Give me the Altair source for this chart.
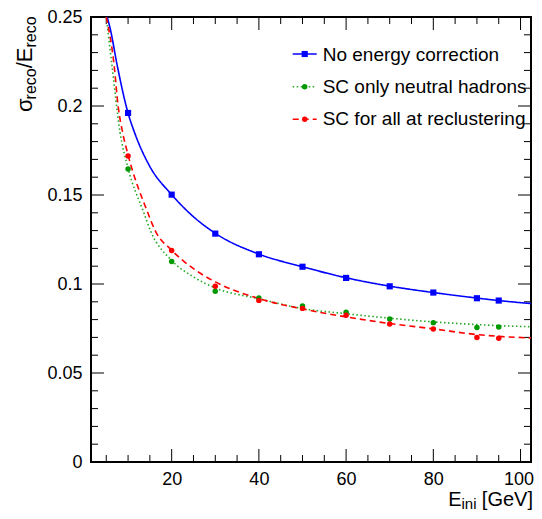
import altair as alt
import pandas as pd

# ---------------- data ----------------
E_points = [10, 20, 30, 40, 50, 60, 70, 80, 90, 95]
no_corr = [0.1961, 0.1502, 0.1283, 0.1167, 0.1097, 0.1034, 0.0987, 0.0952, 0.0920, 0.0907]
sc_neutral = [0.1646, 0.1126, 0.0959, 0.0921, 0.0876, 0.0841, 0.0803, 0.0783, 0.0755, 0.0758]
sc_all = [0.1719, 0.1188, 0.0987, 0.0908, 0.0863, 0.0824, 0.0775, 0.0747, 0.0700, 0.0695]

# fitted curves
curve_E_blue = [5.2, 5.9, 7.5, 10, 11.5, 15, 20, 24, 30, 40, 50, 60, 70, 80, 90, 95, 102.4]
curve_blue = [0.250, 0.2435, 0.2229, 0.1960, 0.1850, 0.1660, 0.1502, 0.1400, 0.1285, 0.1168,
              0.1097, 0.1035, 0.0988, 0.0952, 0.0921, 0.0907, 0.0890]
curve_E_green = [5.0, 6.3, 8.15, 10, 13.5, 15.2, 20, 25, 30, 40, 50, 60, 70, 80, 90, 95, 102.4]
curve_green = [0.250, 0.2229, 0.1854, 0.1650, 0.1408, 0.1296, 0.1132, 0.1040, 0.0978, 0.0917,
               0.0862, 0.0833, 0.0808, 0.0787, 0.0772, 0.0766, 0.0760]
curve_E_red = [5.0, 6.8, 7.7, 8.86, 10, 14.4, 16.3, 20, 25, 30, 40, 50, 60, 70, 80, 90, 95, 102.4]
curve_red = [0.250, 0.2229, 0.2004, 0.1839, 0.1725, 0.1408, 0.1296, 0.1190, 0.1086, 0.1012,
             0.0918, 0.0860, 0.0815, 0.0778, 0.0748, 0.0716, 0.0706, 0.0697]

series_names = ["No energy correction", "SC only neutral hadrons", "SC for all at reclustering"]

x_major = [20, 40, 60, 80, 100]
x_minor = [5, 10, 15, 25, 30, 35, 45, 50, 55, 65, 70, 75, 85, 90, 95]
y_major = [0, 0.05, 0.1, 0.15, 0.2, 0.25]
y_minor = [round(i * 0.01, 2) for i in range(1, 25) if i % 5 != 0]

# ---------------- styling ----------------
W, H = 440, 445
FONT = "Liberation Sans"
line_colors = ["#0000ff", "#22a822", "#ff0000"]
marker_colors = ["#0000ff", "#009900", "#ff0000"]
dashes = [[1, 0], [1.5, 2.5], [6, 4]]
shapes = ["square", "circle", "circle"]
sizes = [38, 30, 30]

xscale = alt.Scale(domain=[1.5, 102.4], nice=False, zero=False)
yscale = alt.Scale(domain=[0, 0.25], nice=False, zero=False)
xaxis = alt.Axis(values=x_major, ticks=False, domain=False, grid=False, title=None,
                 labelFontSize=18, labelFont=FONT, labelColor="black", labelPadding=8,
                 labelFlush=False, labelOverlap=False,
                 labelOffset=alt.condition("datum.value == 100", alt.value(-2), alt.value(0)))
yaxis = alt.Axis(values=y_major, format=".2~f", ticks=False, domain=False, grid=False, title=None,
                 labelFontSize=18, labelFont=FONT, labelColor="black", labelPadding=9,
                 labelFlush=False, labelOverlap=False)

def X(field):
    return alt.X(field, type="quantitative", scale=xscale, axis=xaxis)

def Y(field):
    return alt.Y(field, type="quantitative", scale=yscale, axis=yaxis)

layers = []

# tick marks (inside, on all four sides)
for vals, L in ((x_major, 13), (x_minor, 7)):
    d = pd.DataFrame({"v": vals})
    layers.append(alt.Chart(d).mark_rule(color="black", strokeWidth=1).encode(
        x=X("v"), y=alt.value(H), y2=alt.value(H - L)))
    layers.append(alt.Chart(d).mark_rule(color="black", strokeWidth=1).encode(
        x=X("v"), y=alt.value(0), y2=alt.value(L)))
for vals, L in ((y_major, 13), (y_minor, 7)):
    d = pd.DataFrame({"v": vals})
    layers.append(alt.Chart(d).mark_rule(color="black", strokeWidth=1).encode(
        y=Y("v"), x=alt.value(0), x2=alt.value(L)))
    layers.append(alt.Chart(d).mark_rule(color="black", strokeWidth=1).encode(
        y=Y("v"), x=alt.value(W), x2=alt.value(W - L)))

# curves and points
curves = [(curve_E_blue, curve_blue), (curve_E_green, curve_green), (curve_E_red, curve_red)]
points = [no_corr, sc_neutral, sc_all]
for i in range(3):
    cd = pd.DataFrame({"E": curves[i][0], "val": curves[i][1]})
    layers.append(alt.Chart(cd).mark_line(
        color=line_colors[i], strokeWidth=1.6, strokeDash=dashes[i],
        interpolate="monotone", clip=True).encode(x=X("E"), y=Y("val")))
for i in range(3):
    pdx = pd.DataFrame({"E": E_points, "val": points[i]})
    layers.append(alt.Chart(pdx).mark_point(
        shape=shapes[i], filled=True, size=sizes[i], color=marker_colors[i],
        opacity=1, clip=True).encode(x=X("E"), y=Y("val")))

# legend (drawn by hand, no frame)
row_y = [37, 69.7, 102.3]
row_base = [43.5, 75.7, 107.9]
one = pd.DataFrame({"k": [0]})
for i in range(3):
    layers.append(alt.Chart(one).mark_rule(
        color=line_colors[i], strokeWidth=1.6, strokeDash=dashes[i]).encode(
        x=alt.value(201.7), x2=alt.value(225.7), y=alt.value(row_y[i])))
    layers.append(alt.Chart(one).mark_point(
        shape=shapes[i], filled=True, size=sizes[i], color=marker_colors[i], opacity=1).encode(
        x=alt.value(213.7), y=alt.value(row_y[i])))
    layers.append(alt.Chart(pd.DataFrame({"t": [series_names[i]]})).mark_text(
        font=FONT, fontSize=19, color="black", align="left", baseline="alphabetic").encode(
        x=alt.value(231.7), y=alt.value(row_base[i]), text="t:N"))

# axis titles with subscripts
def txt(s, x, y, size, align="left", angle=0):
    kw = dict(font=FONT, fontSize=size, color="black", align=align, baseline="alphabetic")
    if angle:
        kw["angle"] = angle
    return alt.Chart(pd.DataFrame({"t": [s]})).mark_text(**kw).encode(
        x=alt.value(x), y=alt.value(y), text="t:N")

# y title: sigma_reco / E_reco (rotated)
layers.append(txt("σ", -58.7, 95, 22, angle=270))
layers.append(txt("reco", -55.5, 82.4, 16, angle=270))
layers.append(txt("/E", -58.7, 51.3, 22, angle=270))
layers.append(txt("reco", -55.5, 30.5, 16, angle=270))

# x title: E_ini [GeV]
layers.append(txt(" [GeV]", 442, 489, 20, align="right"))
layers.append(txt("ini", 385.5, 491.5, 15, align="right"))
layers.append(txt("E", 370.5, 489, 20, align="right"))

chart = alt.layer(*layers).properties(
    width=W, height=H,
    autosize=alt.AutoSizeParams(type="none"),
    padding={"left": 83, "top": 9, "right": 3, "bottom": 49},
    background="white",
).configure_view(stroke="black", strokeWidth=2)

chart.save("out.html", embed_options={"renderer": "svg", "actions": False})
